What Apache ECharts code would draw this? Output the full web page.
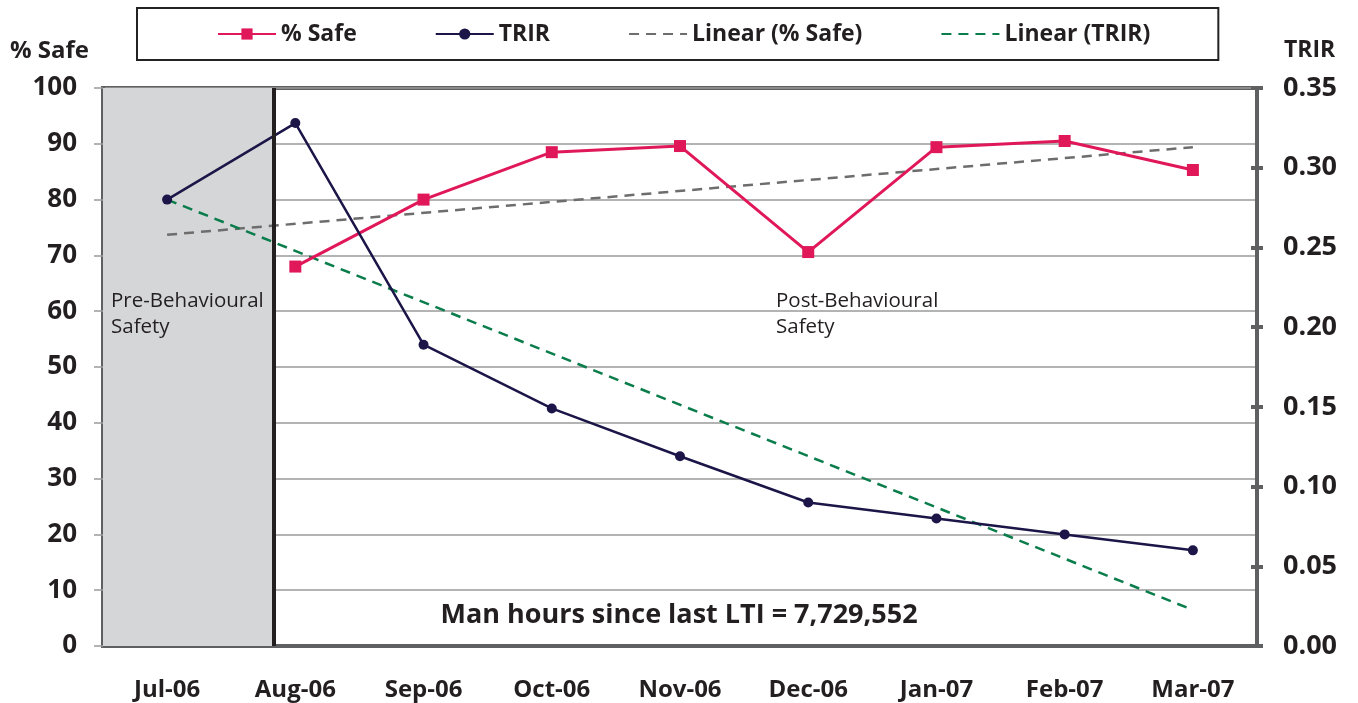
<!DOCTYPE html>
<html>
<head>
<meta charset="utf-8">
<script src="https://cdn.jsdelivr.net/npm/echarts@6/dist/echarts.min.js"></script>
<style>
  html, body { margin: 0; padding: 0; background: #fff; }
  #chart { width: 1358px; height: 703px; }
</style>
</head>
<body>
<div id="chart"></div>
<script>
const months = ['Jul-06', 'Aug-06', 'Sep-06', 'Oct-06', 'Nov-06', 'Dec-06', 'Jan-07', 'Feb-07', 'Mar-07']
const pctSafe = [null, 68, 80, 88.5, 89.6, 70.6, 89.4, 90.5, 85.3]
const trir = [0.28, 0.328, 0.189, 0.149, 0.119, 0.09, 0.08, 0.07, 0.06]
// trend lines: only the end points
const safeTrend = [73.7, null, null, null, null, null, null, null, 89.4]
const trirTrend = [0.28, null, null, null, null, null, null, null, 0.0226]
// pre-behavioural period, in category units from the left edge
const preSpan = [0, 1.33]

const FONT = '"Open Sans", "DejaVu Sans", sans-serif'
const TEXT = '#231f20'
const AXIS = '#5f6062'
const GRID = '#9a9a9a'

const chart = echarts.init(document.getElementById('chart'))

const option = {
  animation: false,
  textStyle: { fontFamily: FONT, color: TEXT },
  grid: {
    left: 103, right: 101, top: 88, bottom: 57,
    show: true, borderColor: AXIS, borderWidth: 4
  },
  legend: {
    top: 8,
    left: 137,
    padding: [14.5, 68, 14.5, 80],
    borderColor: '#222',
    borderWidth: 2,
    itemWidth: 58,
    itemHeight: 14,
    itemGap: 78,
    textStyle: { fontFamily: FONT, fontWeight: 'bold', fontSize: 23, color: TEXT },
    data: ['% Safe', 'TRIR', 'Linear (% Safe)', 'Linear (TRIR)']
  },
  xAxis: [
    {
      type: 'category',
      data: months,
      boundaryGap: true,
      axisLine: { lineStyle: { color: AXIS, width: 4 } },
      axisTick: { length: 12, lineStyle: { color: AXIS, width: 4 } },
      axisLabel: { margin: 32, fontFamily: FONT, fontWeight: 'bold', fontSize: 24, color: TEXT },
      splitLine: { show: false }
    },
    {
      type: 'value',
      min: 0, max: 9,
      show: false
    }
  ],
  yAxis: [
    {
      type: 'value',
      min: 0, max: 100, interval: 10,
      position: 'left',
      axisLine: { show: true, lineStyle: { color: AXIS, width: 4 } },
      axisTick: { show: true, length: 9, lineStyle: { color: GRID, width: 1.5 } },
      axisLabel: { margin: 26, fontFamily: FONT, fontWeight: 'bold', fontSize: 26, color: TEXT },
      splitLine: { lineStyle: { color: GRID, width: 1.5 } }
    },
    {
      type: 'value',
      min: 0, max: 0.35, interval: 0.05,
      position: 'right',
      axisLine: { show: true, lineStyle: { color: AXIS, width: 4 } },
      axisTick: { show: true, length: 6, lineStyle: { color: AXIS, width: 4 } },
      axisLabel: {
        margin: 26, fontFamily: FONT, fontWeight: 'bold', fontSize: 27, color: TEXT,
        formatter: v => v.toFixed(2)
      },
      splitLine: { show: false }
    },
    {
      // inner half of the crossing ticks on the right
      type: 'value',
      min: 0, max: 0.35, interval: 0.05,
      position: 'right',
      axisLine: { show: false },
      axisTick: { show: true, inside: true, length: 6, lineStyle: { color: AXIS, width: 4 } },
      axisLabel: { show: false },
      splitLine: { show: false }
    }
  ],
  series: [
    {
      name: 'period',
      type: 'line',
      xAxisIndex: 1,
      yAxisIndex: 0,
      data: [],
      silent: true,
      z: 1,
      markArea: {
        silent: true,
        itemStyle: { color: '#d5d6d8' },
        data: [[{ xAxis: preSpan[0] }, { xAxis: preSpan[1] }]]
      },
      markLine: {
        silent: true,
        symbol: 'none',
        label: { show: false },
        lineStyle: { color: '#231f20', width: 4, type: 'solid' },
        data: [{ xAxis: preSpan[1] }]
      }
    },
    {
      name: 'Linear (% Safe)',
      type: 'line',
      yAxisIndex: 0,
      data: safeTrend,
      connectNulls: true,
      symbol: 'none',
      z: 3,
      itemStyle: { color: '#6d6d6d', opacity: 0 },
      lineStyle: { color: '#6d6d6d', width: 2.5, type: [10, 7] }
    },
    {
      name: 'Linear (TRIR)',
      type: 'line',
      yAxisIndex: 1,
      data: trirTrend,
      connectNulls: true,
      symbol: 'none',
      z: 3,
      itemStyle: { color: '#0a7d4b', opacity: 0 },
      lineStyle: { color: '#0a7d4b', width: 2.5, type: [10, 7] }
    },
    {
      name: '% Safe',
      type: 'line',
      yAxisIndex: 0,
      data: pctSafe,
      symbol: 'rect',
      symbolSize: 12,
      z: 4,
      itemStyle: { color: '#e0185a' },
      lineStyle: { color: '#e0185a', width: 3 }
    },
    {
      name: 'TRIR',
      type: 'line',
      yAxisIndex: 1,
      data: trir,
      symbol: 'circle',
      symbolSize: 10,
      z: 4,
      itemStyle: { color: '#1b1548' },
      lineStyle: { color: '#1b1548', width: 2.5 }
    }
  ],
  graphic: [
    {
      type: 'text', left: 10, top: 39,
      style: { text: '% Safe', font: 'bold 24px ' + FONT, fill: TEXT }
    },
    {
      type: 'text', left: 1284, top: 39,
      style: { text: 'TRIR', font: 'bold 23px ' + FONT, fill: TEXT }
    },
    {
      type: 'text', left: 111, top: 288, z: 10,
      style: { text: 'Pre-Behavioural\nSafety', font: '20.5px ' + FONT, fill: TEXT, lineHeight: 26 }
    },
    {
      type: 'text', left: 776, top: 288, z: 10,
      style: { text: 'Post-Behavioural\nSafety', font: '20.5px ' + FONT, fill: TEXT, lineHeight: 26 }
    },
    {
      type: 'text', left: 'center', top: 602, z: 10,
      style: { text: 'Man hours since last LTI = 7,729,552', font: 'bold 27px ' + FONT, fill: TEXT }
    }
  ]
}

chart.setOption(option)
</script>
</body>
</html>
